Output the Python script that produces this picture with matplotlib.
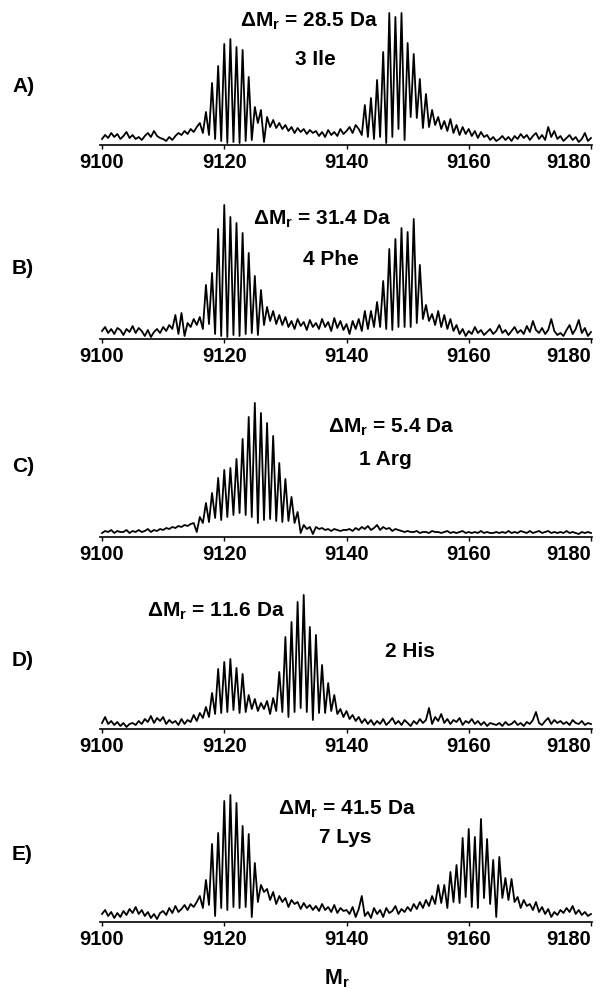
import numpy as np
import matplotlib
matplotlib.use("Agg")
import matplotlib.pyplot as plt

plt.rcParams['font.family'] = ['Liberation Sans', 'DejaVu Sans']
plt.rcParams['font.weight'] = 'bold'
plt.rcParams['mathtext.fontset'] = 'custom'
plt.rcParams['mathtext.rm'] = 'Liberation Sans:bold'
plt.rcParams['mathtext.bf'] = 'Liberation Sans:bold'
plt.rcParams['mathtext.it'] = 'Liberation Sans:bold:italic'

spec_a = [6, 10, 7, 12, 8, 11, 6, 9, 13, 7,
          10, 6, 8, 5, 9, 12, 8, 14, 9, 7,
          6, 4, 8, 5, 9, 12, 10, 14, 11, 16,
          13, 18, 22, 12, 33, 10, 62, 6, 79, 4,
          101, 2, 106, 3, 98, 2, 95, 4, 68, 5,
          38, 22, 35, 3, 28, 18, 25, 17, 22, 16,
          20, 14, 18, 12, 17, 13, 16, 11, 15, 12,
          14, 9, 13, 8, 15, 10, 13, 9, 16, 11,
          14, 18, 12, 20, 16, 10, 40, 8, 47, 6,
          65, 8, 93, 2, 132, 8, 128, 16, 132, 5,
          102, 28, 91, 27, 66, 17, 51, 18, 35, 20,
          28, 16, 24, 14, 26, 12, 20, 10, 18, 11,
          16, 9, 14, 7, 13, 8, 10, 5, 8, 4,
          6, 9, 5, 8, 4, 9, 6, 11, 7, 10,
          5, 9, 12, 6, 10, 5, 18, 8, 14, 6,
          9, 4, 7, 10, 5, 8, 3, 6, 12, 4,
          7]

spec_b = [8, 12, 6, 10, 5, 11, 9, 4, 10, 7,
          13, 6, 11, 8, 3, 9, 2, 7, 10, 6,
          12, 8, 14, 10, 24, 5, 26, 3, 16, 12,
          20, 14, 22, 10, 54, 15, 66, 5, 110, 3,
          134, 2, 122, 4, 116, 3, 106, 5, 86, 6,
          63, 4, 49, 14, 32, 18, 28, 15, 24, 14,
          22, 12, 18, 10, 20, 13, 17, 9, 19, 12,
          16, 10, 20, 12, 17, 8, 21, 11, 18, 9,
          15, 5, 18, 10, 20, 8, 28, 10, 28, 12,
          37, 12, 58, 10, 90, 9, 100, 12, 111, 12,
          107, 12, 120, 16, 74, 20, 34, 18, 25, 14,
          28, 12, 24, 10, 20, 8, 14, 5, 10, 3,
          8, 5, 12, 6, 9, 4, 7, 10, 5, 8,
          14, 6, 9, 4, 8, 12, 6, 9, 5, 13,
          7, 18, 9, 6, 11, 5, 9, 20, 8, 4,
          6, 3, 9, 14, 5, 10, 19, 6, 11, 3,
          7]

spec_c = [4, 6, 5, 7, 4, 6, 5, 5, 7, 4,
          6, 5, 7, 5, 6, 8, 5, 7, 6, 8,
          7, 9, 8, 10, 9, 11, 10, 12, 11, 13,
          14, 5, 20, 14, 34, 15, 44, 19, 59, 17,
          67, 20, 69, 22, 78, 24, 98, 22, 120, 20,
          134, 14, 124, 17, 114, 18, 101, 16, 74, 15,
          58, 16, 40, 14, 25, 4, 12, 8, 10, 3,
          10, 8, 9, 7, 8, 6, 8, 7, 6, 7,
          7, 8, 6, 9, 7, 10, 8, 11, 7, 9,
          12, 7, 10, 8, 9, 6, 8, 7, 6, 5,
          6, 5, 5, 6, 4, 5, 5, 4, 6, 5,
          5, 4, 5, 6, 4, 5, 4, 5, 6, 4,
          5, 4, 5, 4, 6, 4, 5, 4, 4, 5,
          4, 5, 4, 6, 4, 5, 4, 6, 5, 4,
          6, 4, 5, 6, 4, 5, 6, 4, 5, 4,
          5, 4, 6, 4, 5, 4, 3, 5, 4, 5,
          4]

spec_d = [6, 12, 5, 8, 4, 7, 3, 6, 2, 5,
          6, 4, 8, 5, 10, 7, 13, 6, 11, 8,
          12, 5, 9, 6, 8, 4, 10, 5, 9, 7,
          14, 8, 16, 11, 22, 12, 36, 15, 60, 16,
          67, 17, 70, 19, 61, 16, 55, 17, 34, 20,
          30, 18, 26, 20, 28, 15, 31, 18, 57, 17,
          92, 12, 107, 17, 127, 21, 134, 17, 102, 9,
          94, 16, 64, 16, 46, 18, 34, 15, 20, 12,
          18, 10, 14, 8, 12, 6, 10, 5, 9, 4,
          8, 5, 10, 4, 7, 11, 5, 8, 4, 9,
          6, 3, 8, 5, 10, 6, 9, 21, 5, 12,
          8, 15, 6, 10, 5, 9, 7, 11, 4, 8,
          6, 10, 5, 8, 4, 7, 3, 6, 5, 4,
          6, 3, 7, 4, 5, 8, 4, 6, 3, 7,
          5, 9, 17, 6, 4, 8, 11, 5, 9, 6,
          8, 5, 7, 4, 9, 6, 5, 8, 4, 6,
          5]

spec_e = [8, 12, 6, 10, 4, 9, 5, 11, 7, 13,
          9, 15, 8, 12, 6, 10, 4, 8, 3, 9,
          11, 7, 14, 9, 16, 10, 13, 17, 12, 18,
          15, 20, 26, 14, 42, 17, 78, 6, 89, 14,
          121, 12, 127, 15, 119, 14, 96, 15, 88, 5,
          59, 20, 37, 30, 33, 22, 30, 18, 26, 20,
          24, 15, 22, 18, 20, 13, 19, 14, 17, 12,
          16, 11, 18, 12, 15, 10, 17, 9, 14, 11,
          12, 8, 15, 5, 13, 26, 6, 10, 4, 14,
          8, 12, 5, 14, 9, 11, 16, 8, 13, 10,
          15, 11, 18, 13, 20, 14, 22, 16, 26, 18,
          37, 19, 37, 14, 50, 20, 57, 19, 84, 25,
          93, 15, 85, 14, 103, 24, 83, 18, 62, 5,
          65, 24, 44, 22, 43, 20, 25, 14, 22, 16,
          18, 12, 20, 10, 15, 8, 13, 5, 10, 7,
          12, 9, 14, 10, 16, 8, 12, 7, 10, 6,
          8]

spectra = [spec_a, spec_b, spec_c, spec_d, spec_e]
panel_labels = ['A)', 'B)', 'C)', 'D)', 'E)']
delta_mr = ['28.5', '31.4', '5.4', '11.6', '41.5']
residues = ['3 Ile', '4 Phe', '1 Arg', '2 His', '7 Lys']
xticks = [9100, 9120, 9140, 9160, 9180]

W, H = 613, 990
fig = plt.figure(figsize=(W / 100, H / 100), dpi=100)

# pixel positions of each panel's axis line, and of its two annotation lines
axis_y = [145, 339, 537, 729, 922]
label_y = [87, 268, 467, 660, 854]
dm_xy = [(309, 27), (322, 225), (391, 433), (216, 617), (347, 815)]
res_xy = [(315, 65), (331, 265), (385, 465), (410, 657), (345, 843)]

for i, spec in enumerate(spectra):
    ax = fig.add_axes([100.2 / W, 1 - axis_y[i] / H, 492 / W, 140 / H])
    mass = 9100 + 0.5 * np.arange(len(spec))
    ax.plot(mass, spec, color='black', lw=1.3)
    ax.set_xlim(9099.7, 9180.2)
    ax.set_ylim(0, 140)
    for s in ['top', 'right', 'left']:
        ax.spines[s].set_visible(False)
    ax.spines['bottom'].set_linewidth(1.2)
    ax.set_yticks([])
    ax.set_xticks(xticks)
    ax.tick_params(axis='x', direction='out', length=3, width=1, pad=2.5, labelsize=14.5)
    # last label is pulled in so it ends at the right edge of the axis
    last = ax.get_xticklabels()[-1]
    last.set_horizontalalignment('right')
    last.set_x(9180.2 + (0.6 if i == 0 else 0.3))

    fig.text(12 / W, 1 - label_y[i] / H, panel_labels[i], ha='left', va='center',
             fontsize=15, fontweight='bold')
    fig.text(dm_xy[i][0] / W, 1 - dm_xy[i][1] / H,
             'ΔM$_{\\mathbf{r}}$ = ' + delta_mr[i] + ' Da',
             ha='center', va='baseline', fontsize=15, fontweight='bold')
    fig.text(res_xy[i][0] / W, 1 - res_xy[i][1] / H, residues[i],
             ha='center', va='baseline', fontsize=15, fontweight='bold')

fig.text(337 / W, 1 - 984 / H, 'M$_{\\mathbf{r}}$', ha='center', va='baseline',
         fontsize=15.5, fontweight='bold')

fig.savefig('out.png', dpi=100)
